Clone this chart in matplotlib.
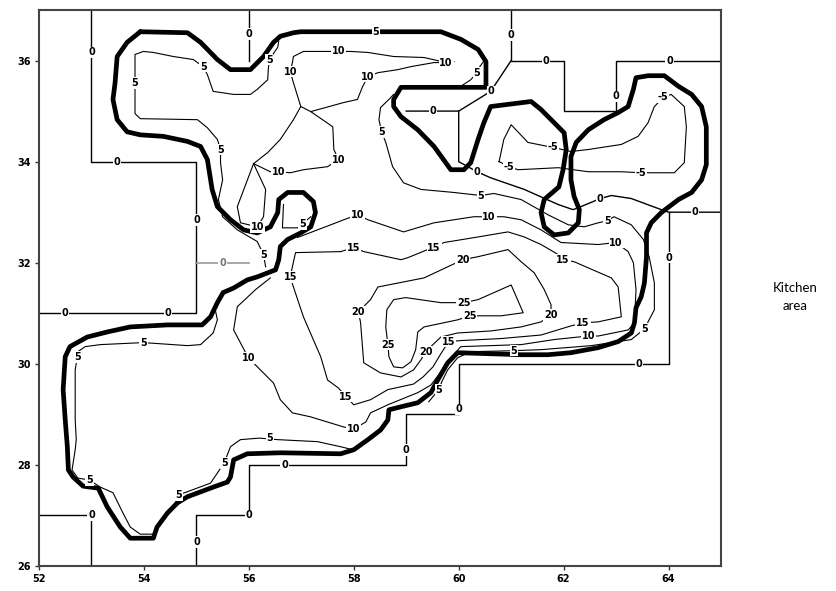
import matplotlib
matplotlib.use("Agg")
import matplotlib.pyplot as plt

# ---------------- data (x, y in chart units) ----------------
x_ticks = [52, 54, 56, 58, 60, 62, 64]
y_ticks = [26, 28, 30, 32, 34, 36]

# thick boundary contour
thick = [(53.93,36.57),(53.68,36.36),(53.49,36.08),(53.45,35.56),(53.41,35.23),(53.49,34.83),
         (53.68,34.59),(53.93,34.53),(54.37,34.50),(54.83,34.40),(55.08,34.30),(55.21,34.04),
         (55.30,33.45),(55.40,33.11),(55.65,32.85),(55.90,32.65),(56.16,32.59),(56.41,32.71),
         (56.55,32.99),(56.57,33.25),(56.74,33.39),(57.04,33.39),(57.23,33.21),(57.27,32.99),
         (57.18,32.71),(56.99,32.59),(56.74,32.46),(56.60,32.32),(56.57,32.06),(56.51,31.86),
         (56.16,31.72),(55.97,31.66),(55.71,31.50),(55.51,31.41),(55.40,31.21),(55.27,30.93),
         (55.11,30.77),(54.45,30.77),(53.74,30.73),(53.30,30.63),(52.92,30.53),(52.59,30.34),
         (52.50,30.14),(52.46,29.49),(52.50,28.89),(52.54,28.36),(52.56,27.90),(52.65,27.76),
         (52.84,27.58),(53.13,27.54),(53.30,27.17),(53.55,26.77),(53.74,26.55),(54.18,26.55),
         (54.25,26.77),(54.45,27.05),(54.64,27.25),(54.83,27.37),(55.32,27.56),(55.59,27.66),
         (55.65,27.76),(55.71,28.10),(55.97,28.22),(56.60,28.24),(57.75,28.22),(58.00,28.30),
         (58.27,28.50),(58.51,28.69),(58.65,28.89),(58.67,29.09),(58.90,29.15),(59.22,29.23),
         (59.47,29.43),(59.60,29.68),(59.79,30.02),(59.98,30.22),(61.19,30.18),(61.70,30.18),
         (62.14,30.22),(62.66,30.32),(63.04,30.44),(63.29,30.61),(63.35,30.81),(63.38,31.11),
         (63.48,31.33),(63.54,31.60),(63.58,32.12),(63.58,32.59),(63.67,32.79),(63.86,32.99),
         (64.19,33.25),(64.44,33.39),(64.63,33.64),(64.72,33.94),(64.72,34.69),(64.63,35.09),
         (64.44,35.33),(64.19,35.49),(63.92,35.70),(63.61,35.70),(63.38,35.66),(63.33,35.43),
         (63.23,35.09),(63.04,34.97),(62.77,34.83),(62.47,34.63),(62.24,34.38),(62.14,34.10),
         (62.14,33.64),(62.20,33.31),(62.30,33.05),(62.28,32.79),(62.09,32.59),(61.82,32.55),
         (61.63,32.71),(61.57,32.99),(61.63,33.25),(61.91,33.50),(61.99,33.84),(62.05,34.24),
         (62.01,34.57),(61.82,34.77),(61.57,35.03),(61.38,35.19),(60.61,35.09),(60.48,34.77),
         (60.37,34.44),(60.23,33.98),(60.10,33.84),(59.85,33.84),(59.53,34.30),(59.22,34.63),
         (58.90,34.89),(58.76,35.09),(58.76,35.23),(58.90,35.47),(60.52,35.47),(60.52,35.98),
         (60.37,36.22),(60.04,36.42),(59.66,36.57),(56.99,36.57),(56.85,36.55),(56.60,36.48),
         (56.47,36.36),(56.28,36.08),(56.03,35.82),(55.65,35.82),(55.40,36.02),(55.08,36.36),
         (54.83,36.55),(53.93,36.57)]

# level 0 (room boundary) lines
zero_lines = [
    [(53,37),(53,34),(55,34),(55,31),(52,31)],
    [(56,37),(56,36)],
    [(61,37),(61,36),(62,36),(62,35),(63,35),(63,36),(65,36)],
    [(61,36),(60.61,35.39),(60,35),(59,35)],
    [(60,35),(60,34),(60.35,33.80),(60.61,33.68),(61.25,33.45),(61.90,33.15),(62.18,33.05),
     (62.33,33.11),(62.70,33.27),(62.91,33.33),(63.29,33.27),(63.81,33.07),(64,33),(65,33)],
    [(64,33),(64,30),(60,30),(60,29),(59,29),(59,28),(56,28),(56,27),(55,27),(55,26)],
    [(52,27),(53,27),(53,26)],
]
zero_grey = [(55,32),(56,32)]
zero_labels = [(53,36.16),(53.49,34),(55,32.85),(52.5,31),(54.46,31),(56,36.53),(61,36.51),
               (61.67,36),(63,35.29),(64.02,36),(59.51,35),(60.61,35.39),(60.35,33.80),
               (62.70,33.27),(64.51,33),(64,32.10),(63.44,30),(60,29.1),(59,28.3),(56.68,28),
               (56,27),(55,26.48),(53,27)]
zero_grey_label = (55.5,32)

# level 5
c5_lines = [
    [(56.57,36.38),(56.55,36.26),(56.39,36.02),(56.37,35.82),(56.36,35.62),(56.16,35.43),
     (56.03,35.33),(55.71,35.33),(55.32,35.39),(55.21,35.72),(55.13,35.88),(54.94,36.02),
     (54.56,36.08),(54.18,36.16),(53.99,36.18),(53.83,36.12),(53.83,35.56),(53.83,34.95),
     (53.93,34.85),(55.02,34.83),(55.21,34.67),(55.40,34.44),(55.46,34.24),(55.46,33.98),
     (55.50,33.64),(55.42,33.25),(55.50,32.91),(55.78,32.65),(56.16,32.42),(56.28,32.16),
     (56.32,31.92)],
    [(55.36,31.07),(55.40,30.87),(55.32,30.61),(55.08,30.38),(54.83,30.36),(53.99,30.42),
     (53.17,30.38),(52.88,30.34),(52.74,30.24),(52.73,30.14),(52.69,29.88),(52.69,28.89),
     (52.71,28.50),(52.69,28.30),(52.63,27.90),(52.74,27.74),(52.96,27.70),(53.17,27.56),
     (53.41,27.45),(53.60,27.05),(53.74,26.77),(53.93,26.63),(54.18,26.63),(54.37,26.91),
     (54.56,27.17),(54.67,27.41),(54.83,27.47),(55.27,27.64),(55.53,28.04),(55.65,28.36),
     (55.84,28.50),(56.20,28.53),(56.55,28.50),(57.31,28.46),(57.75,28.36),(57.98,28.30)],
    [(58.76,35.33),(58.67,35.23),(58.51,35.07),(58.48,34.83),(58.53,34.59),(58.61,34.38),
     (58.74,33.90),(58.95,33.58),(59.28,33.45),(59.91,33.39),(60.42,33.33),(60.67,33.37),
     (61.19,33.25),(61.70,32.95),(62.09,32.75),(62.39,32.71),(62.66,32.79),(62.83,32.83),
     (62.96,32.91),(63.29,32.75),(63.52,32.46),(63.63,32.12),(63.73,31.60),(63.73,31.07),
     (63.54,30.69),(63.29,30.48),(62.53,30.36),(61.57,30.28),(61.05,30.26),(60.23,30.24),
     (59.98,30.12),(59.79,29.88),(59.68,29.65),(59.62,29.49),(59.43,29.25)],
    [(60.50,36.02),(60.39,35.86),(60.35,35.76),(60.23,35.62),(60.04,35.49)],
    [(56.66,33.15),(56.64,32.69),(56.93,32.69),(57.02,32.77),(57.18,32.91)],
]
c5_labels = [(56.39,36.02),(55.13,35.88),(53.83,35.56),(55.46,34.24),(56.28,32.16),
             (53.99,30.42),(52.73,30.14),(52.96,27.70),(54.67,27.41),(55.53,28.04),(56.40,28.53),
             (58.53,34.59),(60.42,33.33),(62.83,32.83),(63.54,30.69),(61.05,30.26),(59.62,29.49),
             (60.35,35.76),(57.02,32.77),(58.42,36.57)]

# level 10
c10_lines = [
    [(59.91,35.98),(59.76,35.96),(59.34,36.06),(58.76,36.08),(58.27,36.16),(57.94,36.18),
     (57.71,36.18),(57.50,36.18),(57.04,36.18),(56.85,36.08),(56.83,35.96),(56.79,35.78),
     (56.85,35.56),(56.99,35.09),(56.85,34.83),(56.60,34.44),(56.36,34.18),(56.09,33.96)],
    [(59.76,35.96),(59.53,35.96),(59.09,35.88),(58.84,35.82),(58.46,35.76),(58.27,35.68),
     (58.17,35.49),(58.07,35.23),(57.81,35.17),(57.18,34.99),(57.60,34.69),(57.62,34.24),
     (57.71,34.04),(57.50,33.90),(57.04,33.84),(56.79,33.78),(56.57,33.80),(56.41,33.80),
     (56.09,33.96)],
    [(56.99,35.09),(57.18,34.99)],
    [(56.09,33.96),(55.78,33.11),(55.84,32.79),(56.16,32.71)],
    [(56.09,33.96),(56.32,33.45),(56.28,32.91),(56.16,32.71)],
    [(56.93,32.50),(57.56,32.75),(57.81,32.85),(58.07,32.95),(58.27,32.85),(58.95,32.61),
     (59.53,32.79),(60.29,32.91),(60.58,32.91),(60.86,32.91),(61.19,32.85),(61.57,32.65),
     (61.95,32.40),(62.66,32.36),(63.00,32.40),(63.23,32.22),(63.33,32.00),(63.38,31.47),
     (63.35,30.81),(63.23,30.67),(62.66,30.55),(62.47,30.55),(62.28,30.53),(61.82,30.48),
     (61.19,30.38),(60.04,30.34),(59.85,30.12),(59.66,29.84),(59.47,29.58),(59.22,29.43),
     (58.65,29.19),(58.32,29.03),(58.23,28.85),(58.00,28.71),(57.81,28.75),(57.18,28.95),
     (56.83,29.03),(56.60,29.29),(56.47,29.62),(56.22,29.88),(55.99,30.12),(55.71,30.67),
     (55.78,31.13),(56.13,31.47),(56.41,31.70)],
]
c10_labels = [(59.76,35.96),(57.71,36.18),(56.79,35.78),(58.27,35.68),(57.71,34.04),
              (56.57,33.80),(56.16,32.71),(58.07,32.95),(60.58,32.91),(63.00,32.40),
              (62.47,30.55),(58.00,28.71),(55.99,30.12)]

# level 15
c15_line = [(57.75,32.22),(58.00,32.30),(58.19,32.22),(58.90,32.06),(59.03,32.10),(59.41,32.26),
            (59.53,32.30),(59.72,32.40),(60.37,32.51),(60.94,32.61),(61.25,32.51),(61.57,32.36),
            (61.90,32.16),(61.99,32.06),(62.20,32.02),(62.91,31.70),(63.04,31.52),(63.10,30.93),
            (62.66,30.83),(62.37,30.81),(62.14,30.75),(61.57,30.57),(60.81,30.50),(60.04,30.46),
            (59.81,30.44),(59.66,30.20),(59.51,29.94),(59.32,29.74),(59.14,29.60),(58.65,29.49),
            (58.32,29.29),(58.00,29.19),(57.85,29.35),(57.71,29.52),(57.50,29.68),(57.37,30.14),
            (57.04,30.93),(56.85,31.52),(56.79,31.72),(56.83,31.92),(56.89,32.20),(57.75,32.22)]
c15_labels = [(58.00,32.30),(59.53,32.30),(61.99,32.06),(62.37,30.81),(59.81,30.44),
              (57.85,29.35),(56.79,31.72)]

# level 20
c20_line = [(58.09,31.03),(58.32,31.27),(58.46,31.52),(59.34,31.70),(60.08,32.06),(60.37,32.12),
            (60.94,32.26),(61.19,32.02),(61.44,31.80),(61.63,31.47),(61.76,31.17),(61.76,30.97),
            (61.57,30.83),(61.19,30.73),(60.61,30.65),(59.98,30.61),(59.66,30.53),(59.37,30.24),
            (59.28,30.08),(59.14,29.88),(58.90,29.74),(58.51,29.82),(58.19,30.02),(58.13,30.81),
            (58.09,31.03)]
c20_labels = [(58.09,31.03),(60.08,32.06),(61.76,30.97),(59.37,30.24)]

# level 25
c25_line = [(58.65,30.38),(58.61,30.73),(58.63,31.07),(58.76,31.27),(58.99,31.31),(59.66,31.21),
            (60.10,31.21),(60.37,31.27),(61.00,31.56),(61.23,31.01),(60.81,30.95),(60.21,30.95),
            (59.98,30.87),(59.34,30.73),(59.22,30.63),(59.18,30.28),(59.09,30.04),(58.93,29.92),
            (58.76,29.94),(58.67,30.14),(58.65,30.38)]
c25_labels = [(58.65,30.38),(60.10,31.21),(60.21,30.95)]

# level -5
cm5_line = [(60.77,34.00),(60.86,34.44),(61.00,34.73),(61.32,34.38),(61.80,34.28),(62.14,34.20),
            (62.47,34.24),(63.10,34.34),(63.42,34.50),(63.61,34.77),(63.73,35.09),(63.90,35.27),
            (64.05,35.33),(64.30,35.09),(64.34,34.69),(64.30,33.98),(64.11,33.78),(63.73,33.78),
            (63.48,33.78),(63.10,33.80),(62.47,33.80),(61.90,33.88),(61.13,33.84),(60.96,33.90),
            (60.77,34.00)]
cm5_labels = [(61.80,34.28),(63.90,35.27),(63.48,33.78),(60.96,33.90)]

# ---------------- drawing ----------------
fig = plt.figure(figsize=(8.37, 5.91), dpi=100)
ax = fig.add_axes([39/837, 1-566/591, (721-39)/837, (566-10)/591])
ax.set_xlim(52, 65)
ax.set_ylim(26, 37)

def draw(pts, **kw):
    xs = [p[0] for p in pts]
    ys = [p[1] for p in pts]
    ax.plot(xs, ys, **kw)

def label(pts, s, color="black"):
    for (x, y) in pts:
        ax.text(x, y, s, ha="center", va="center", fontsize=7, color=color,
                family="DejaVu Sans", fontweight="bold", zorder=6,
                bbox=dict(boxstyle="square,pad=0.08", fc="white", ec="none"))

thin = dict(color="black", lw=0.8, zorder=3, solid_joinstyle="round")
for ln in zero_lines:
    draw(ln, color="black", lw=1.0, zorder=2)
draw(zero_grey, color="#9a9a9a", lw=1.2, zorder=2)
for ln in c5_lines:
    draw(ln, **thin)
for ln in c10_lines:
    draw(ln, **thin)
draw(c15_line, **thin)
draw(c20_line, **thin)
draw(c25_line, **thin)
draw(cm5_line, **thin)
draw(thick, color="black", lw=3.4, zorder=4, solid_joinstyle="round", solid_capstyle="round")

label(zero_labels, "0")
label([zero_grey_label], "0", color="#777777")
label(c5_labels, "5")
label(c10_labels, "10")
label(c15_labels, "15")
label(c20_labels, "20")
label(c25_labels, "25")
label(cm5_labels, "-5")

ax.set_xticks(x_ticks)
ax.set_yticks(y_ticks)
ax.set_xticklabels([str(v) for v in x_ticks], fontsize=7, fontweight="bold")
ax.set_yticklabels([str(v) for v in y_ticks], fontsize=7, fontweight="bold")
ax.tick_params(direction="out", length=3, width=1, pad=3, color="#333333")
for sp in ax.spines.values():
    sp.set_linewidth(1.5)
    sp.set_color("#444444")

fig.text(795/837, 1-297/591, "Kitchen\narea", ha="center", va="center",
         fontsize=9.5, family="Lato", linespacing=1.6)

fig.savefig("out.png", dpi=100)
